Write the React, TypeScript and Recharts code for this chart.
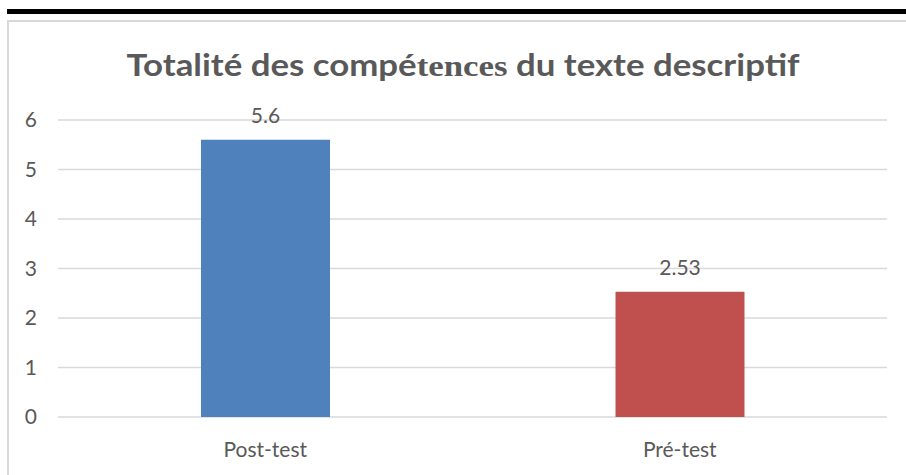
import React from 'react';
import { BarChart, Bar, XAxis, YAxis, CartesianGrid, Cell, LabelList } from 'recharts';

const categories = ['Post-test', 'Pré-test'];
const scores = [5.6, 2.53];
const barColors = ['#4F81BD', '#C0504D'];
const yTicks = [0, 1, 2, 3, 4, 5, 6];

const data = categories.map((name, i) => ({ name, value: scores[i] }));

const textColor = '#595959';
const font = 'Lato, Carlito, "Open Sans", sans-serif';

const App: React.FC = () => {
  return (
    <div style={{ position: 'fixed', left: 0, top: 0, width: 906, height: 475, background: '#fff', overflow: 'hidden' }}>
      <div style={{ position: 'absolute', left: 7, top: 9, width: 920, height: 5, background: '#000' }} />
      <div
        style={{
          position: 'absolute',
          left: 7,
          top: 20,
          width: 920,
          height: 480,
          border: '2px solid #d9d9d9',
          boxSizing: 'border-box',
        }}
      />
      {/* title: part of "compétences" is set in a serif face in the original */}
      <div
        style={{
          position: 'absolute',
          left: 0,
          top: 45.5,
          width: 926,
          textAlign: 'center',
          fontFamily: font,
          fontWeight: 700,
          fontSize: 30,
          lineHeight: '36px',
          color: textColor,
          whiteSpace: 'nowrap',
          transform: 'scaleX(1.16)',
          transformOrigin: '463px 0',
        }}
      >
        Totalité des compé
        <span style={{ fontFamily: '"Liberation Serif", "Times New Roman", serif' }}>tences</span> du texte descriptif
      </div>
      <div style={{ position: 'absolute', left: 0, top: 0 }}>
        <BarChart
          width={906}
          height={475}
          data={data}
          margin={{ top: 120, right: 19, bottom: 28, left: 8 }}
          barSize={129}
        >
          <CartesianGrid vertical={false} stroke="#d9d9d9" strokeWidth={1.5} />
          <XAxis
            dataKey="name"
            axisLine={false}
            tickLine={false}
            height={30}
            tickMargin={19}
            tick={{ fill: textColor, fontSize: 21, fontFamily: font }}
          />
          <YAxis
            width={50}
            domain={[0, 6]}
            ticks={yTicks}
            axisLine={false}
            tickLine={false}
            tickSize={0}
            tickMargin={21}
            tick={{ fill: textColor, fontSize: 21, fontFamily: font }}
          />
          <Bar dataKey="value" isAnimationActive={false}>
            {data.map((entry, index) => (
              <Cell key={`cell-${index}`} fill={barColors[index]} />
            ))}
            <LabelList
              dataKey="value"
              position="top"
              offset={17}
              fill={textColor}
              fontSize={21}
              fontFamily={font}
            />
          </Bar>
        </BarChart>
      </div>
    </div>
  );
};

export default App;
